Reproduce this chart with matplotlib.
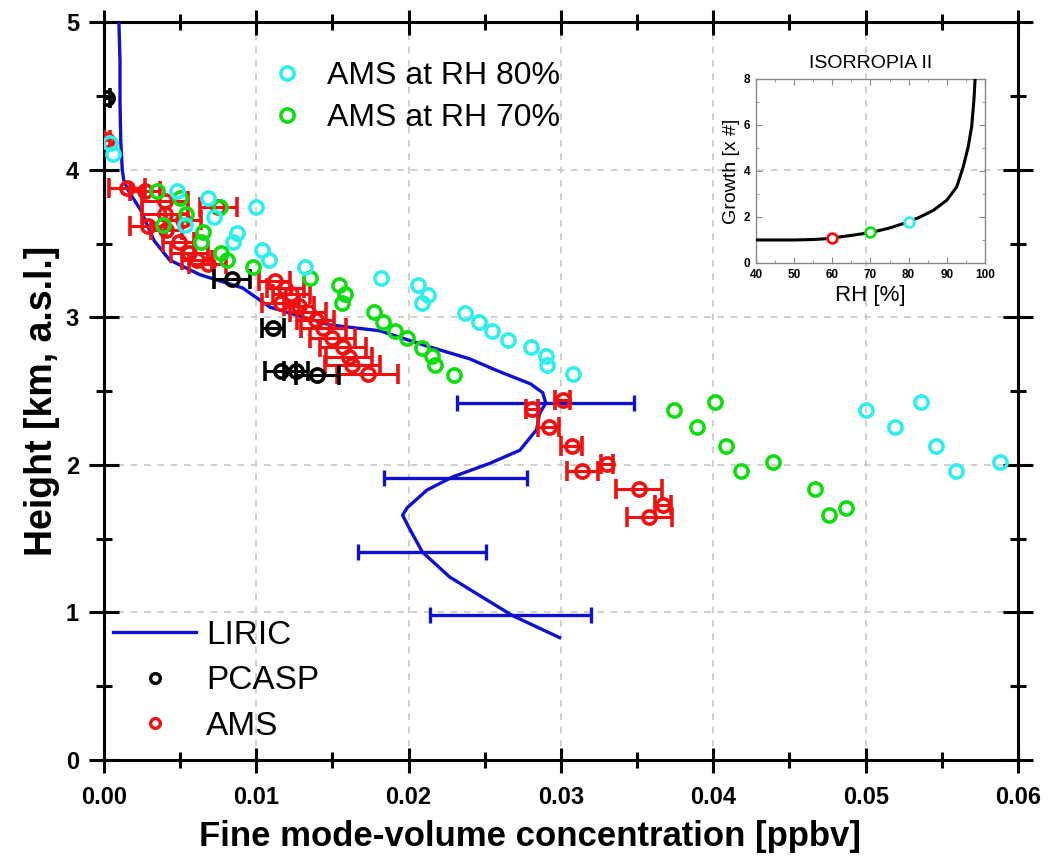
import numpy as np
import matplotlib
matplotlib.use('Agg')
import matplotlib.pyplot as plt
from matplotlib.lines import Line2D
from matplotlib.ticker import MultipleLocator, FormatStrFormatter

plt.rcParams['font.family'] = ['Liberation Sans', 'DejaVu Sans']

# LIRIC profile
liric_x = [0.00098, 0.00105, 0.00105, 0.0011, 0.0012, 0.0013, 0.0016, 0.0024, 0.0033,
           0.0043, 0.0063, 0.0091, 0.0109, 0.0148, 0.0181, 0.0214, 0.0240, 0.0258,
           0.0280, 0.0288, 0.0290, 0.0286, 0.0284, 0.0273, 0.0253, 0.0229, 0.0212,
           0.0199, 0.0196, 0.0201, 0.0209, 0.0227, 0.0249, 0.0268, 0.0299]
liric_y = [5.00, 4.74, 4.47, 4.20, 4.00, 3.93, 3.86, 3.73, 3.52,
           3.39, 3.29, 3.20, 3.07, 2.95, 2.91, 2.80, 2.72, 2.64,
           2.55, 2.49, 2.42, 2.35, 2.24, 2.10, 2.01, 1.92, 1.83,
           1.71, 1.66, 1.56, 1.41, 1.24, 1.10, 0.98, 0.83]
liric_err_x = [0.0290, 0.0231, 0.0209, 0.0267]
liric_err_y = [2.42, 1.91, 1.41, 0.98]
liric_err = [0.0058, 0.0047, 0.0042, 0.0053]

# PCASP
pcasp_x = [0.0002, 0.0084, 0.0111, 0.0116, 0.0126, 0.0140]
pcasp_y = [4.49, 3.26, 2.93, 2.64, 2.64, 2.61]
pcasp_err = [0.0002, 0.0012, 0.0007, 0.0010, 0.0008, 0.0014]

# AMS (dry)
ams_x = [0.0002, 0.0015, 0.0027, 0.0040, 0.0075, 0.0040, 0.0029, 0.0052, 0.0041,
         0.0049, 0.0056, 0.0061, 0.0068, 0.0112, 0.0119, 0.0123, 0.0116, 0.0128,
         0.0134, 0.0139, 0.0144, 0.0150, 0.0157, 0.0161, 0.0163, 0.0173,
         0.0281, 0.0301, 0.0292, 0.0307, 0.0314, 0.0330, 0.0351, 0.0367, 0.0358]
ams_y = [4.20, 3.88, 3.86, 3.79, 3.75, 3.70, 3.62, 3.66, 3.59,
         3.51, 3.44, 3.39, 3.36, 3.25, 3.20, 3.16, 3.10, 3.08,
         3.04, 2.98, 2.93, 2.86, 2.80, 2.73, 2.68, 2.62,
         2.38, 2.44, 2.26, 2.13, 1.96, 2.01, 1.84, 1.73, 1.65]
ams_err = [0.0002, 0.0012, 0.0010, 0.0015, 0.0012, 0.0015, 0.0012, 0.0012, 0.0010,
           0.0010, 0.0012, 0.0010, 0.0012, 0.0010, 0.0012, 0.0012, 0.0012, 0.0010,
           0.0012, 0.0012, 0.0015, 0.0015, 0.0015, 0.0015, 0.0018, 0.0020,
           0.0004, 0.0005, 0.0007, 0.0007, 0.0010, 0.0004, 0.0015, 0.0005, 0.0015]

# AMS at RH 70%
rh70_x = [0.0035, 0.0050, 0.0076, 0.0054, 0.0039, 0.0065, 0.0064, 0.0077, 0.0081,
          0.0098, 0.0135, 0.0154, 0.0158, 0.0156, 0.0177, 0.0183, 0.0191, 0.0199,
          0.0209, 0.0215, 0.0217, 0.0230,
          0.0374, 0.0389, 0.0401, 0.0408, 0.0418, 0.0439, 0.0467, 0.0476, 0.0487]
rh70_y = [3.86, 3.81, 3.75, 3.70, 3.63, 3.58, 3.51, 3.44, 3.39,
          3.34, 3.27, 3.22, 3.16, 3.10, 3.04, 2.97, 2.91, 2.86,
          2.79, 2.74, 2.68, 2.61,
          2.37, 2.26, 2.43, 2.13, 1.96, 2.02, 1.84, 1.66, 1.71]

# AMS at RH 80%
rh80_x = [0.0004, 0.0006, 0.0048, 0.0068, 0.0072, 0.0053, 0.0100, 0.0087, 0.0085,
          0.0104, 0.0108, 0.0132, 0.0182, 0.0206, 0.0213, 0.0209, 0.0237, 0.0246,
          0.0255, 0.0265, 0.0280, 0.0290, 0.0291, 0.0308,
          0.0500, 0.0519, 0.0536, 0.0546, 0.0559, 0.0588]
rh80_y = [4.18, 4.11, 3.86, 3.81, 3.68, 3.63, 3.75, 3.57, 3.51,
          3.46, 3.39, 3.34, 3.27, 3.22, 3.15, 3.10, 3.03, 2.97,
          2.91, 2.85, 2.80, 2.74, 2.68, 2.62,
          2.37, 2.26, 2.43, 2.13, 1.96, 2.02]

# ISORROPIA II growth curve
iso_rh = [40, 45, 50, 55, 58, 60, 65, 70, 75, 80, 83, 86.5, 90, 92.6, 94.3, 95.6, 96.5, 97.1, 97.4]
iso_g = [1.0, 1.0, 1.0, 1.02, 1.05, 1.09, 1.2, 1.32, 1.52, 1.79, 2.0, 2.29, 2.73, 3.31, 4.18, 5.05, 5.92, 7.08, 8.0]
iso_pts_rh = [60, 70, 80]
iso_pts_g = [1.1, 1.35, 1.8]

c_blue = '#1010d0'
c_red = '#f01010'
c_green = '#10dd10'
c_cyan = '#30eeee'

fig = plt.figure(figsize=(10.51, 8.58), dpi=100)
ax = fig.add_axes([0.09895, 0.11422, 0.86965, 0.85956])

ax.grid(True, which='major', ls=(0, (4, 4)), color='#c8c8c8', lw=1.2, zorder=0)
ax.set_axisbelow(True)

mk = dict(marker='o', ms=9.5, mew=2.6, mfc='none', ls='none')

ax.plot(liric_x, liric_y, color=c_blue, lw=2.4, zorder=3)
ax.errorbar(liric_err_x, liric_err_y, xerr=liric_err, fmt='none', ecolor=c_blue,
            elinewidth=2.4, capsize=6, capthick=2.4, zorder=3)
ax.errorbar(ams_x, ams_y, xerr=ams_err, color=c_red, elinewidth=2.2, capsize=7,
            capthick=2.2, zorder=4, **mk)
ax.errorbar(pcasp_x, pcasp_y, xerr=pcasp_err, color='black', elinewidth=2.2, capsize=7,
            capthick=2.2, zorder=5, **mk)
h70, = ax.plot(rh70_x, rh70_y, color=c_green, zorder=6, **mk)
h80, = ax.plot(rh80_x, rh80_y, color=c_cyan, zorder=7, **mk)

ax.set_xlim(0, 0.06)
ax.set_ylim(0, 5)
ax.xaxis.set_major_locator(MultipleLocator(0.01))
ax.xaxis.set_minor_locator(MultipleLocator(0.005))
ax.yaxis.set_major_locator(MultipleLocator(1))
ax.yaxis.set_minor_locator(MultipleLocator(0.5))
ax.xaxis.set_major_formatter(FormatStrFormatter('%.2f'))

for s in ax.spines.values():
    s.set_linewidth(2.2)
ax.tick_params(axis='both', which='both', direction='inout', top=True, right=True, width=2.2)
ax.tick_params(axis='x', which='major', length=18, pad=10, labelsize=17)
ax.tick_params(axis='y', which='major', length=22, pad=7, labelsize=17)
ax.tick_params(axis='both', which='minor', length=11)
for lab in ax.get_xticklabels() + ax.get_yticklabels():
    lab.set_fontweight('bold')

ax.set_xlabel('Fine mode-volume concentration [ppbv]', fontsize=25, fontweight='bold')
ax.xaxis.set_label_coords(0.466, -0.081)
ax.set_ylabel('Height [km, a.s.l.]', fontsize=27, fontweight='bold')
ax.yaxis.set_label_coords(-0.048, 0.487)

leg1 = ax.legend(handles=[h80, h70], labels=['AMS at RH 80%', 'AMS at RH 70%'],
                 loc='upper left', bbox_to_anchor=(0.183, 0.948), frameon=False,
                 fontsize=23, handlelength=1.0, handletextpad=0.75, borderpad=0,
                 borderaxespad=0, labelspacing=0.39)
ax.add_artist(leg1)

hl = Line2D([], [], color=c_blue, lw=2.4)
hp = Line2D([], [], color='black', marker='o', ms=7, mew=2.4, mfc='none', ls='none')
ha = Line2D([], [], color=c_red, marker='o', ms=7, mew=2.4, mfc='none', ls='none')
ax.legend(handles=[hl, hp, ha], labels=['LIRIC', 'PCASP', 'AMS'], loc='upper left',
          bbox_to_anchor=(0.0098, 0.190), frameon=False, fontsize=24, handlelength=2.5,
          handletextpad=0.3, borderpad=0, borderaxespad=0, labelspacing=0.43)

# inset
ins = fig.add_axes([0.7193, 0.6935, 0.2179, 0.2145], facecolor='none')
ins.plot(iso_rh, iso_g, color='black', lw=2.2, zorder=3)
for rh, g, c in zip(iso_pts_rh, iso_pts_g, [c_red, c_green, c_cyan]):
    ins.plot(rh, g, marker='o', ms=7, mew=2, mfc='white', color=c, zorder=4)
ins.set_xlim(40, 100)
ins.set_ylim(0, 8)
ins.xaxis.set_major_locator(MultipleLocator(10))
ins.xaxis.set_minor_locator(MultipleLocator(5))
ins.yaxis.set_major_locator(MultipleLocator(2))
ins.yaxis.set_minor_locator(MultipleLocator(1))
for s in ins.spines.values():
    s.set_color('#888888')
    s.set_linewidth(1)
ins.tick_params(axis='both', which='both', direction='in', top=True, right=True,
                color='#888888', labelsize=8.5)
ins.tick_params(axis='x', pad=4)
ins.tick_params(axis='y', pad=4)
ins.tick_params(which='major', length=4)
ins.tick_params(which='minor', length=2)
for lab in ins.get_xticklabels() + ins.get_yticklabels():
    lab.set_fontweight('bold')
ins.set_xlabel('RH [%]', fontsize=16, labelpad=3)
ins.set_ylabel('Growth [x #]', fontsize=14, labelpad=3)
ins.set_title('ISORROPIA II', fontsize=14, pad=8)

fig.savefig('out.png', dpi=100)
